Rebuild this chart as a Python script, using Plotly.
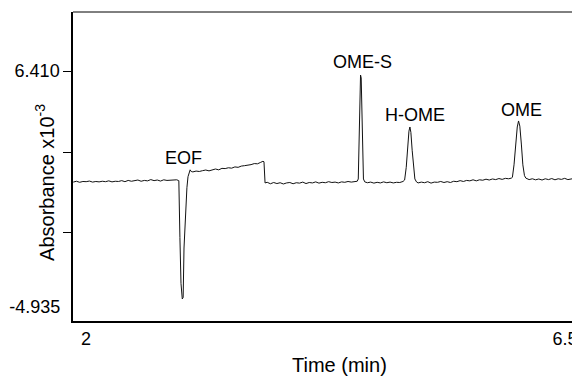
import plotly.graph_objects as go

# Electropherogram trace (time in min, absorbance x10^-3)
time_min = [
    1.90, 1.93, 1.96, 1.99, 2.02, 2.05, 2.08, 2.11, 2.14, 2.17, 2.20, 2.23, 2.26, 2.29,
    2.32, 2.35, 2.38, 2.41, 2.44, 2.47, 2.50, 2.53, 2.56, 2.59, 2.62, 2.65, 2.68, 2.71,
    2.74, 2.77, 2.80, 2.83, 2.86, 2.875,
    2.880, 2.890, 2.900, 2.912, 2.920, 2.928, 2.940, 2.955, 2.965, 2.975, 2.985, 2.995,
    3.01, 3.04, 3.07, 3.10, 3.13, 3.16, 3.19, 3.22, 3.25, 3.28, 3.31, 3.34, 3.37, 3.40,
    3.43, 3.46, 3.49, 3.52, 3.55, 3.58, 3.61, 3.64, 3.66, 3.670, 3.675, 3.680, 3.70,
    3.73, 3.76, 3.79, 3.82, 3.85, 3.88, 3.91, 3.94, 3.97, 4.00, 4.03, 4.06, 4.09, 4.12,
    4.15, 4.18, 4.21, 4.24, 4.27, 4.30, 4.33, 4.36, 4.39, 4.42, 4.45, 4.48, 4.51, 4.535,
    4.545, 4.552, 4.560, 4.566, 4.572, 4.578, 4.585, 4.593, 4.605,
    4.63, 4.66, 4.69, 4.72, 4.75, 4.78, 4.81, 4.84, 4.87, 4.90, 4.93, 4.96,
    4.975, 4.990, 5.003, 5.015, 5.024, 5.033, 5.045, 5.058, 5.070, 5.085,
    5.10, 5.13, 5.16, 5.19, 5.22, 5.25, 5.28, 5.31, 5.34, 5.37, 5.40, 5.43, 5.46, 5.49,
    5.52, 5.55, 5.58, 5.61, 5.64, 5.67, 5.70, 5.73, 5.76, 5.79, 5.82, 5.85, 5.88, 5.91,
    5.94, 5.965,
    5.975, 5.990, 6.005, 6.020, 6.032, 6.044, 6.058, 6.072, 6.087, 6.10,
    6.13, 6.16, 6.19, 6.22, 6.25, 6.28, 6.31, 6.34, 6.37, 6.40, 6.43, 6.46, 6.49, 6.53,
]
absorbance = [
    1.07, 1.11, 1.06, 1.10, 1.09, 1.12, 1.07, 1.10, 1.08, 1.11, 1.09, 1.13, 1.08, 1.11,
    1.10, 1.14, 1.09, 1.15, 1.11, 1.13, 1.17, 1.11, 1.15, 1.13, 1.19, 1.14, 1.17, 1.12,
    1.18, 1.15, 1.17, 1.16, 1.18, 1.15,
    1.14, -1.60, -3.80, -4.55, -4.48, -2.10, -0.40, 0.80, 1.33, 1.58, 1.66, 1.58,
    1.56, 1.60, 1.58, 1.62, 1.65, 1.61, 1.67, 1.70, 1.66, 1.73, 1.72, 1.76, 1.74, 1.80,
    1.78, 1.84, 1.86, 1.88, 1.91, 1.96, 1.95, 2.02, 2.07, 2.05, 1.30, 1.03, 1.06,
    0.99, 1.05, 1.00, 1.04, 0.98, 1.03, 1.05, 0.99, 1.04, 1.02, 1.07, 1.00, 1.05, 1.03,
    1.08, 1.02, 1.06, 1.04, 1.09, 1.05, 1.07, 1.03, 1.08, 1.06, 1.10, 1.07, 1.09, 1.11,
    1.22, 2.90, 5.55, 6.22, 6.08, 4.10, 1.88, 1.22, 1.08,
    1.04, 1.07, 1.02, 1.06, 1.03, 1.08, 1.04, 1.07, 1.03, 1.06, 1.05, 1.10,
    1.17, 1.78, 2.80, 3.52, 3.72, 3.46, 2.60, 1.68, 1.22, 1.08,
    1.03, 1.07, 1.04, 1.09, 1.02, 1.07, 1.06, 1.10, 1.05, 1.09, 1.05, 1.11, 1.09, 1.14,
    1.10, 1.15, 1.13, 1.18, 1.13, 1.18, 1.16, 1.21, 1.17, 1.22, 1.19, 1.24, 1.20, 1.25,
    1.23, 1.26,
    1.30, 1.90, 2.90, 3.72, 4.01, 3.76, 2.90, 1.90, 1.38, 1.26,
    1.19, 1.23, 1.18, 1.22, 1.17, 1.23, 1.19, 1.24, 1.18, 1.23, 1.20, 1.25, 1.19, 1.23,
]

# Peak labels
peak_names = ["EOF", "OME-S", "H-OME", "OME"]
peak_label_x = [2.92, 4.58, 5.07, 6.06]
peak_label_y = [2.23, 6.84, 4.30, 4.54]

# Axis ticks
y_label_val = [6.410]
y_label_text = ["6.410"]
y_plain_ticks = [2.516, -1.330]
y_bottom_val = [-4.935]
y_bottom_text = ["-4.935"]
x_first_val = [2]
x_first_text = ["2"]
x_last_val = [6.5]
x_last_text = ["6.5"]

X_RANGE = [1.898, 6.528]
Y_RANGE = [-5.61, 9.25]
FONT = "Arial, Liberation Sans, Helvetica, sans-serif"
TICKFONT = dict(family=FONT, size=18, color="#000000")

fig = go.Figure()
fig.add_trace(go.Scatter(
    x=time_min, y=absorbance, mode="lines",
    line=dict(color="#111111", width=1), hoverinfo="skip", showlegend=False,
))
# invisible trace anchoring the helper axes that carry the end labels
fig.add_trace(go.Scatter(
    x=[X_RANGE[0]], y=[y_bottom_val[0]], xaxis="x2", yaxis="y2", mode="markers",
    marker=dict(opacity=0), hoverinfo="skip", showlegend=False,
))

for name, px, py in zip(peak_names, peak_label_x, peak_label_y):
    fig.add_annotation(x=px, y=py, text=name, showarrow=False,
                       font=dict(family=FONT, size=18, color="#000000"),
                       xanchor="center", yanchor="middle")

fig.add_annotation(x=0.535, y=-0.142, xref="paper", yref="paper", text="Time (min)",
                   showarrow=False, font=dict(family=FONT, size=20, color="#000000"),
                   xanchor="center", yanchor="middle")
fig.add_annotation(x=-0.056, y=0.447, xref="paper", yref="paper",
                   text="Absorbance x10<sup>-3</sup>", textangle=-90,
                   showarrow=False, font=dict(family=FONT, size=20, color="#000000"),
                   xanchor="center", yanchor="middle")

# top frame line
fig.add_shape(type="line", xref="paper", yref="paper", x0=0, x1=1, y0=1, y1=1,
              line=dict(color="#000000", width=1))

fig.update_layout(
    width=572, height=376,
    margin=dict(l=73, r=0, t=12, b=55, autoexpand=False),
    paper_bgcolor="white", plot_bgcolor="white",
    showlegend=False,
    xaxis=dict(
        range=X_RANGE, tickvals=x_first_val, ticktext=x_first_text, ticklabelshift=2,
        ticks="", showgrid=False, zeroline=False, showline=True, automargin=False,
        linecolor="#000000", linewidth=2,
        tickfont=TICKFONT,
    ),
    xaxis2=dict(
        range=X_RANGE, overlaying="x", side="bottom", anchor="y",
        tickvals=x_last_val, ticktext=x_last_text, ticklabelshift=-4,
        ticks="", showgrid=False, zeroline=False, showline=True, automargin=False,
        linecolor="#000000", linewidth=2,
        ticklabeloverflow="allow", tickfont=TICKFONT,
    ),
    yaxis=dict(
        range=Y_RANGE, tickvals=y_label_val, ticktext=y_label_text,
        ticks="outside", ticklen=8, tickwidth=1, tickcolor="#000000",
        minor=dict(tickvals=y_plain_ticks, ticks="outside", ticklen=8,
                   tickwidth=1, tickcolor="#000000", showgrid=False),
        showgrid=False, zeroline=False, showline=True, automargin=False,
        linecolor="#000000", linewidth=1.5,
        tickfont=TICKFONT,
    ),
    yaxis2=dict(
        range=Y_RANGE, overlaying="y", side="left", anchor="x", automargin=False,
        tickvals=y_bottom_val, ticktext=y_bottom_text,
        ticks="outside", ticklen=8, tickcolor="rgba(0,0,0,0)",
        showgrid=False, zeroline=False, showline=False,
        tickfont=TICKFONT,
    ),
)

fig.write_html("out.html")
